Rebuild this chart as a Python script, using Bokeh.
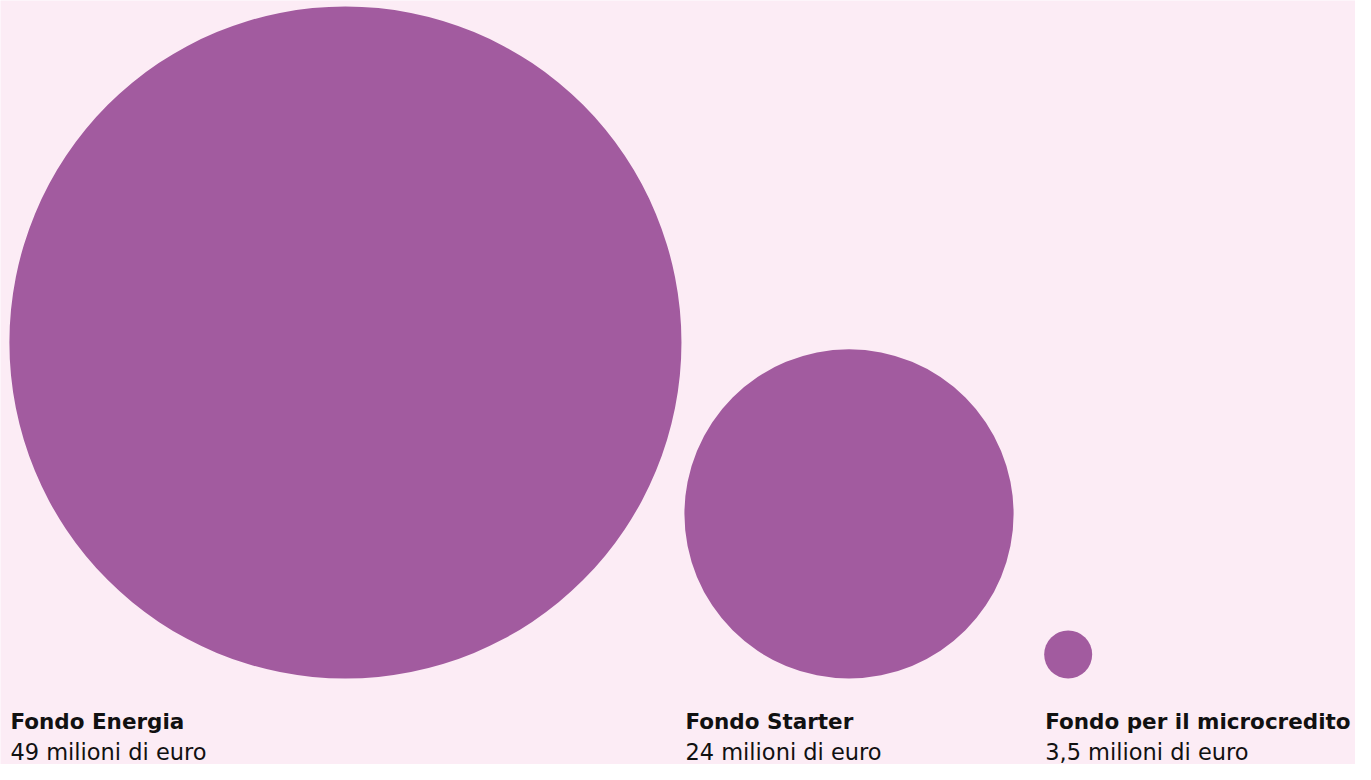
from bokeh.plotting import figure
from bokeh.models import Range1d, ColumnDataSource
from bokeh.core.properties import value
from bokeh.embed import file_html
from bokeh.resources import INLINE

# data
names = ["Fondo Energia", "Fondo Starter", "Fondo per il microcredito"]
amounts = [49, 24, 3.5]
amount_labels = ["49 milioni di euro", "24 milioni di euro", "3,5 milioni di euro"]

# layout (reference pixel space)
BG = "#FCECF5"
COLOR = "#A25B9F"
k = 340 / 49.0          # radius per million
left_edges = [9, 692, 1056]
base_y = 693

radii = [a * k for a in amounts]
cx = [l + r for l, r in zip(left_edges, radii)]
cy = [base_y - r for r in radii]

W, H = 1355, 764
s = W / 1371.0
p = figure(width=W, height=H, output_backend="svg", toolbar_location=None,
           x_range=Range1d(0, 1371), y_range=Range1d(780, 780 - H / s),
           min_border=0, background_fill_color=BG, border_fill_color=BG,
           outline_line_color=None)
p.axis.visible = False
p.grid.visible = False

src = ColumnDataSource(dict(x=cx, y=cy, r=radii,
                            lx=[l + 1 for l in left_edges], name=names, amt=amount_labels,
                            y1=[736] * 3, y2=[767] * 3))
p.circle(x="x", y="y", radius="r", source=src, fill_color=COLOR, line_color=None)
p.text(x="lx", y="y1", text="name", source=src, text_font=value("DejaVu Sans"),
       text_font_style="bold", text_font_size="21.5px", text_color="#111111",
       text_baseline="alphabetic", text_align="left")
p.text(x="lx", y="y2", text="amt", source=src, text_font=value("DejaVu Sans"),
       text_font_size="22.5px", text_color="#111111",
       text_baseline="alphabetic", text_align="left")

open("out.html", "w").write(file_html(p, INLINE))
